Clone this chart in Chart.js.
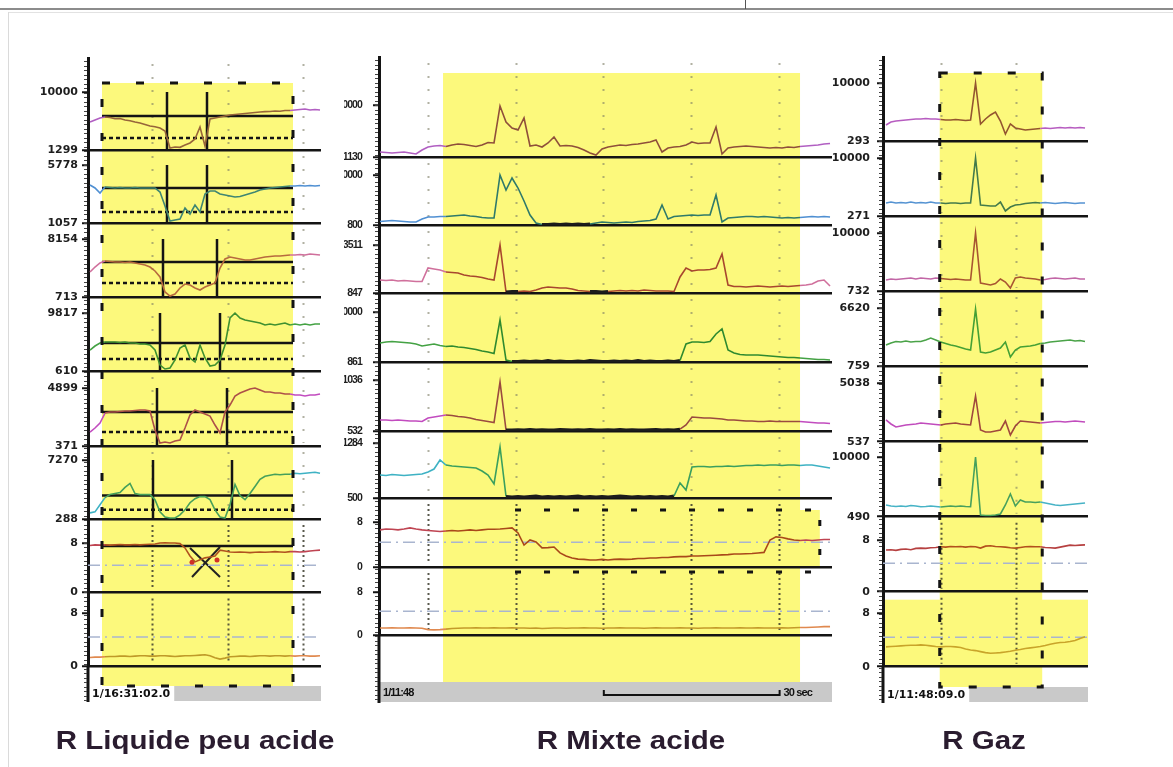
<!DOCTYPE html>
<html>
<head>
<meta charset="utf-8">
<title>Enregistrements pH : R Liquide peu acide, R Mixte acide, R Gaz</title>
<script src="https://cdn.jsdelivr.net/npm/chart.js@4.4.1/dist/chart.umd.min.js"></script>
<style>
  html, body { margin: 0; padding: 0; background: #fff; }
  #page { position: relative; width: 1173px; height: 767px; overflow: hidden; background: #fff; }
  .rule { position: absolute; background: #8c8c8c; }
  canvas { position: absolute; top: 0; }
  .titre { position: absolute; top: 726px; height: 32px; line-height: 32px; text-align: center; white-space: nowrap;
           font: bold 25px 'Liberation Sans', Arial, sans-serif; color: #2a1c2f; transform: scaleX(1.18); }
</style>
</head>
<body>
<div id="page">
  <div class="rule" style="left:0;top:8px;width:1173px;height:2px"></div>
  <div class="rule" style="left:745px;top:0;width:1px;height:9px;background:#555"></div>
  <div class="rule" style="left:8px;top:12px;width:1165px;height:1px;background:#e2e2e2"></div>
  <div class="rule" style="left:8px;top:12px;width:1px;height:755px;background:#dadada"></div>
  <canvas id="liq" width="344" height="767" style="left:0"></canvas>
  <canvas id="mix" width="492" height="767" style="left:344px"></canvas>
  <canvas id="gaz" width="345" height="767" style="left:828px"></canvas>
  <div class="titre" style="left:45px;width:300px">R Liquide peu acide</div>
  <div class="titre" style="left:531px;width:200px">R Mixte acide</div>
  <div class="titre" style="left:934px;width:100px">R Gaz</div>
</div>
<script>
// one sample is about one second, x = sample index
const PH_REF = 4.4;

// ---------- R Liquide peu acide ----------
const liqStart = '1/16:31:02.0';
const liqMin = [1299, 1057, 713, 610, 371, 288, 0, 0];
const liqTop = [10000, 5778, 8154, 9817, 4899, 7270, 8, 8];
const liqCh1 = [5500, 5800, 6100, 6250, 6170, 5980, 6010, 5800, 5700, 5500,
  5350, 5120, 4900, 4780, 4600, 4150, 1600, 1750, 1700, 2050,
  2350, 2950, 4750, 1900, 5950, 6100, 6250, 6400, 6550, 6620,
  6700, 6770, 6850, 6920, 7000, 7060, 7070, 7150, 7120, 7220,
  7220, 7300, 7370, 7450, 7300, 7370, 7300];
const liqCh2 = [4150, 3906, 3500, 3988, 3945, 3906, 3945, 3906, 3906, 3945,
  3906, 3906, 3906, 3906, 3580, 2440, 1220, 1300, 1380, 2280,
  1790, 2520, 1950, 3420, 3660, 3660, 3420, 3340, 3255, 3173,
  3210, 3340, 3460, 3580, 3743, 3820, 3906, 3945, 3988, 4030,
  4070, 4070, 4110, 4070, 4110, 4070, 4110];
const liqCh3 = [3920, 4560, 5075, 5330, 5270, 5200, 5200, 5140, 5200, 5075,
  4947, 4820, 4560, 4050, 3280, 1355, 840, 1100, 1868, 2380,
  2253, 1868, 1611, 1996, 2253, 2510, 4434, 5588, 5845, 5717,
  5588, 5460, 5460, 5588, 5717, 5845, 5910, 5973, 5973, 6040,
  6100, 6100, 6165, 6100, 6230, 6165, 6100];
const liqCh4 = [3943, 4578, 5054, 5212, 5212, 5212, 5133, 5212, 5054, 5054,
  4895, 4895, 4736, 3943, 1562, 927, 1086, 2356, 4260, 4736,
  2673, 2038, 4736, 2673, 1403, 1562, 2356, 4736, 9021, 9815,
  9021, 8704, 8545, 8386, 8228, 7910, 8069, 7910, 8069, 8228,
  7910, 8069, 7910, 8069, 7910, 8069, 8069];
const liqCh5 = [1463, 1775, 2165, 2945, 3023, 3023, 3060, 3101, 3101, 3140,
  3179, 3179, 3101, 1619, 605, 683, 605, 761, 839, 1775,
  2789, 3179, 3023, 2867, 2711, 2009, 1385, 3023, 3569, 4271,
  4505, 4661, 4817, 4895, 4739, 4583, 4583, 4505, 4505, 4427,
  4427, 4349, 4349, 4271, 4349, 4349, 4427];
const liqCh6 = [1010, 1131, 1974, 2816, 3178, 3298, 3418, 4020, 4502, 3298,
  3178, 3178, 3178, 2576, 1131, 529, 408, 408, 770, 1372,
  2214, 2696, 2937, 2937, 2576, 1372, 529, 408, 1974, 4382,
  3057, 2576, 3298, 4141, 4984, 5345, 5465, 5586, 5525, 5586,
  5586, 5706, 5646, 5706, 5766, 5826, 5706];
const liqCh7 = [7.6, 7.7, 7.65, 7.7, 7.65, 7.7, 7.75, 7.7, 7.7, 7.75,
  7.7, 7.75, 7.8, 7.85, 8.0, 8.05, 8.0, 8.0, 7.9, 7.2,
  5.9, 4.95, 5.3, 5.6, 5.75, 5.9, 6.85, 6.7, 6.55, 6.5,
  6.55, 6.5, 6.45, 6.5, 6.55, 6.5, 6.55, 6.6, 6.55, 6.5,
  6.6, 6.6, 6.55, 6.6, 6.7, 6.8, 6.85];
const liqCh8 = [1.35, 1.4, 1.4, 1.45, 1.5, 1.5, 1.55, 1.55, 1.5, 1.55,
  1.6, 1.6, 1.55, 1.55, 1.6, 1.6, 1.55, 1.5, 1.55, 1.6,
  1.6, 1.65, 1.7, 1.75, 1.6, 1.3, 1.1, 1.25, 1.45, 1.5,
  1.55, 1.55, 1.5, 1.55, 1.6, 1.6, 1.55, 1.6, 1.6, 1.55,
  1.6, 1.55, 1.6, 1.6, 1.55, 1.55, 1.6];
const liqShade = [2.4, 40.6];
const liqGrid = [12.4, 27.5, 42.5];
const liqSolid = [6400, 3900, 5200, 5050, 3020, 3060, 7.5];
const liqDotted = [3100, 1950, 2510, 2510, 1460, 1370];
const liqMarkA = [15.4, 15.4, 14.6, 14.0, 13.4, 12.6];
const liqMarkB = [23.4, 23.4, 25.4, 26.0, 27.4, 28.4];
const liqCrossA = [[20, 7.2], [26, 2.5]];
const liqCrossB = [[26, 7.35], [20.4, 2.5]];
const liqDots = [[20.4, 4.9], [25.4, 5.25]];

// ---------- R Mixte acide ----------
const mixStart = '1/11:48';
const mixMin = [1130, 800, 847, 861, 532, 500, 0, 0];
const mixTop = [10000, 10000, 3511, 10000, 1036, 1284, 8, 8];
const mixCh1 = [1983, 1898, 1812, 1898, 1983, 1812, 1642, 2324, 2836, 3007,
  3090, 2920, 3177, 3348, 3260, 3090, 2921, 3177, 3604, 3518,
  9831, 7101, 6077, 5736, 7783, 3007, 3177, 2836, 3518, 4542,
  3007, 3090, 3007, 2751, 2324, 1812, 1471, 2495, 2836, 3007,
  3177, 3090, 3260, 3348, 3518, 3689, 4030, 1983, 2665, 2836,
  2920, 3177, 3689, 3430, 3518, 3518, 6248, 1642, 2665, 2836,
  2920, 3007, 2920, 2836, 2751, 2665, 2751, 2665, 2836, 2751,
  2920, 3007, 3090, 3177, 3348, 3430];
const mixCh2 = [1444, 1536, 1628, 1536, 1444, 1352, 1352, 1904, 2272, 2272,
  2364, 2364, 2456, 2548, 2640, 2456, 2364, 2180, 2088, 2088,
  10000, 7240, 9448, 7608, 5216, 2640, 1168, 892, 892, 984,
  892, 984, 892, 984, 892, 984, 1168, 1352, 1260, 1168,
  1260, 1352, 1260, 1444, 1536, 1628, 1904, 4480, 1904, 2364,
  2456, 2548, 2640, 2548, 2640, 2640, 6320, 1352, 2088, 2180,
  2272, 2364, 2364, 2272, 2364, 2272, 2180, 2088, 2180, 2088,
  2180, 2272, 2364, 2272, 2364, 2272];
const mixCh3 = [1569, 1541, 1569, 1513, 1541, 1513, 1485, 1485, 2235, 2179,
  2124, 2013, 1985, 1957, 1846, 1790, 1763, 1707, 1624, 1569,
  3511, 902, 930, 930, 958, 930, 1013, 1124, 1180, 1152,
  1124, 1124, 1069, 985, 958, 930, 930, 902, 930, 958,
  985, 958, 985, 958, 1013, 985, 958, 958, 958, 930,
  1735, 2235, 2068, 2124, 2124, 2152, 2235, 3011, 1291, 1208,
  1208, 1180, 1208, 1236, 1208, 1180, 1208, 1236, 1208, 1236,
  1263, 1291, 1347, 1513, 1569, 1236];
const mixCh4 = [4334, 4517, 4608, 4517, 4425, 4334, 4151, 3786, 3969, 4151,
  3877, 3694, 3786, 3603, 3512, 3329, 3146, 2872, 2689, 2415,
  8539, 1227, 952, 952, 1044, 952, 1044, 952, 1135, 952,
  1044, 952, 952, 1044, 952, 1135, 1044, 952, 952, 1044,
  952, 1044, 952, 1135, 952, 1044, 952, 952, 1044, 952,
  1135, 4151, 4517, 4517, 4425, 4608, 5979, 6893, 3055, 2506,
  2232, 2141, 2141, 2141, 2050, 1958, 1867, 1775, 1684, 1684,
  1592, 1501, 1410, 1318, 1318, 1227];
const mixCh5 = [641, 641, 636, 641, 636, 631, 631, 626, 660, 670,
  680, 690, 685, 675, 670, 660, 646, 636, 626, 616,
  1016, 542, 542, 545, 542, 547, 542, 545, 542, 542,
  547, 545, 542, 545, 542, 547, 542, 542, 545, 542,
  547, 542, 545, 542, 542, 545, 547, 542, 545, 542,
  550, 591, 670, 665, 660, 660, 655, 650, 641, 641,
  636, 631, 631, 626, 626, 631, 626, 626, 626, 626,
  626, 621, 616, 611, 611, 606];
const mixCh6 = [828, 821, 835, 828, 821, 828, 835, 842, 871, 913,
  1042, 970, 956, 949, 942, 935, 928, 885, 828, 700,
  1227, 521, 514, 521, 514, 521, 528, 514, 521, 514,
  521, 514, 521, 528, 514, 521, 514, 521, 514, 521,
  528, 521, 514, 521, 514, 521, 514, 521, 514, 528,
  714, 614, 942, 949, 949, 942, 949, 949, 956, 949,
  956, 963, 963, 970, 963, 970, 970, 963, 970, 970,
  963, 970, 970, 956, 942, 928];
const mixCh7 = [6.6, 6.75, 6.7, 6.6, 6.75, 6.95, 6.75, 6.6, 6.5, 6.4,
  6.3, 6.4, 6.5, 6.4, 6.5, 6.6, 6.5, 6.6, 6.7, 6.7,
  6.75, 6.85, 6.95, 6.05, 3.9, 4.8, 4.45, 3.4, 3.45, 3.55,
  2.5, 1.95, 1.6, 1.4, 1.35, 1.25, 1.25, 1.35, 1.25, 1.35,
  1.4, 1.35, 1.4, 1.5, 1.5, 1.6, 1.6, 1.7, 1.7, 1.8,
  1.85, 1.85, 1.95, 1.95, 2.0, 2.05, 2.1, 2.15, 2.2, 2.3,
  2.3, 2.35, 2.4, 2.5, 2.6, 4.8, 5.35, 5.25, 5.0, 4.8,
  4.7, 4.8, 4.7, 4.8, 4.9, 4.9];
const mixCh8 = [1.3, 1.3, 1.35, 1.3, 1.3, 1.35, 1.3, 1.25, 1.0, 0.95,
  1.0, 1.1, 1.2, 1.25, 1.3, 1.3, 1.35, 1.3, 1.3, 1.35,
  1.3, 1.3, 1.35, 1.3, 1.3, 1.25, 1.3, 1.2, 1.25, 1.3,
  1.3, 1.25, 1.3, 1.3, 1.35, 1.3, 1.3, 1.25, 1.3, 1.3,
  1.35, 1.3, 1.3, 1.3, 1.25, 1.3, 1.35, 1.3, 1.3, 1.3,
  1.35, 1.3, 1.3, 1.25, 1.3, 1.3, 1.35, 1.3, 1.3, 1.3,
  1.35, 1.3, 1.3, 1.35, 1.3, 1.3, 1.3, 1.35, 1.3, 1.35,
  1.4, 1.4, 1.45, 1.5, 1.55, 1.55];
const mixShade = [10.5, 70];
const mixGrid = [8, 22.6, 37.2, 51.8, 66.5];
const mixPhWindow = [22.5, 73.3];   // second window, pH channel only
const mixScaleBar = [37.3, 29.3];   // start, length (= 30 sec)

// ---------- R Gaz ----------
const gazStart = '1/11:48:09.0';
const gazMin = [293, 271, 732, 759, 537, 490, 0, 0];
const gazTop = [10000, 10000, 10000, 6620, 5038, 10000, 8, 8];
const gazCh1 = [2971, 3474, 3641, 3725, 3808, 3892, 3976, 3976, 4060, 3976,
  3976, 3892, 3808, 3808, 3892, 3808, 3725, 3808, 10000, 3139,
  3976, 4645, 5147, 3641, 1465, 3139, 2469, 2302, 2134, 2218,
  2302, 2385, 2469, 2385, 2469, 2552, 2469, 2552, 2469, 2552, 2469];
const gazCh2 = [2451, 2619, 2451, 2535, 2451, 2619, 2451, 2535, 2451, 2619,
  2451, 2451, 2367, 2451, 2451, 2367, 2451, 2451, 10000, 2116,
  2032, 1948, 1948, 2619, 1110, 1780, 2116, 2200, 2367, 2451,
  2535, 2451, 2535, 2451, 2367, 2451, 2535, 2451, 2367, 2451, 2451];
const gazCh3 = [2490, 2650, 2570, 2650, 2730, 2810, 2650, 2810, 2730, 2650,
  2810, 2730, 2650, 2570, 2650, 2570, 2490, 2490, 10000, 2010,
  1850, 1690, 1930, 2650, 2170, 1211, 2810, 2970, 2810, 2730,
  2650, 2490, 2570, 2730, 2810, 2730, 2650, 2730, 2810, 2650, 2650];
const gazCh4 = [2880, 3082, 3233, 3183, 3284, 3183, 3233, 3233, 3385, 3587,
  3385, 3183, 3032, 2880, 2780, 2628, 2476, 2375, 6516, 2173,
  2072, 2173, 2375, 2577, 3183, 1668, 2375, 2678, 2729, 2780,
  2880, 3032, 3082, 3183, 3233, 3284, 3334, 3385, 3284, 3334, 3233];
const gazCh5 = [2201, 1895, 1664, 1741, 1818, 1856, 1895, 1971, 1933, 1895,
  1856, 1818, 1895, 1933, 1971, 1895, 1856, 1818, 4042, 1434,
  1281, 1281, 1358, 1434, 2125, 1051, 1741, 2125, 2086, 2048,
  2010, 1971, 2010, 2048, 2086, 2086, 2048, 2086, 2125, 2086, 2048];
const gazCh6 = [2354, 2195, 2115, 2195, 2115, 2274, 2195, 2083, 2115, 2195,
  2115, 2035, 2115, 2195, 2115, 2195, 2115, 2083, 10000, 761,
  681, 681, 761, 920, 2354, 4106, 2195, 3150, 2832, 2832,
  2752, 2832, 2672, 2513, 2354, 2274, 2354, 2433, 2513, 2593, 2672];
const gazCh7 = [6.45, 6.5, 6.4, 6.55, 6.6, 6.5, 6.7, 6.75, 6.7, 6.8,
  6.85, 6.95, 6.9, 7.0, 6.95, 7.0, 6.9, 7.0, 6.95, 6.75,
  7.05, 7.1, 7.0, 6.95, 6.9, 6.8, 6.75, 6.85, 6.95, 7.0,
  6.95, 6.95, 6.85, 6.8, 6.75, 6.9, 7.05, 7.2, 7.15, 7.2, 7.25];
const gazCh8 = [2.95, 3.0, 3.05, 3.1, 3.15, 3.2, 3.2, 3.25, 3.2, 3.1,
  3.0, 2.95, 3.0, 3.0, 2.95, 2.85, 2.65, 2.5, 2.4, 2.25,
  2.1, 2.0, 2.05, 2.1, 2.2, 2.3, 2.45, 2.55, 2.7, 2.8,
  2.9, 3.0, 3.15, 3.35, 3.5, 3.6, 3.65, 3.75, 3.9, 4.2, 4.45];
const gazShade = [10.8, 31.4];
const gazGrid = [11, 26.2];

// ---------- drawing ----------
const YELLOW = '#fcf97c';
const INK = '#141414';
const wideFont = { family: "'DejaVu Sans', sans-serif", size: 11, weight: 'bold' };
const narrowFont = { family: "'Liberation Sans Narrow', 'Liberation Sans', sans-serif", size: 10.5, weight: 'bold' };

function lineDs(points, axis, color, width, dash) {
  return {
    data: points.map(p => ({ x: p[0], y: p[1] })),
    yAxisID: axis, borderColor: color, borderWidth: width, borderDash: dash || [],
    pointRadius: 0, order: 1
  };
}

function decor(p) {
  return {
    id: 'decor',
    beforeDraw(chart) {
      const { ctx, chartArea: a, scales } = chart;
      // the middle recording is squeezed horizontally: tighten its lettering
      if (p.letterSpacing) ctx.letterSpacing = p.letterSpacing;
      const px = t => scales.x.getPixelForValue(t);
      const y0 = a.top + p.shadeTop;
      const barTop = a.bottom + p.barGap;
      ctx.save();
      ctx.fillStyle = YELLOW;
      ctx.fillRect(px(p.shade[0]), y0, px(p.shade[1]) - px(p.shade[0]), barTop - y0);
      (p.boxes || []).forEach(b => {
        const s = scales[b.axis];
        const x0 = b.from == null ? a.left : px(b.from);
        const x1 = b.to == null ? a.right : px(b.to);
        ctx.fillRect(x0, s.top + b.inset, x1 - x0, s.bottom - s.top - b.inset);
      });
      // dotted time grid, strip by strip
      p.mins.forEach((mn, i) => {
        const s = scales['y' + i];
        const ph = i >= 6;
        ctx.strokeStyle = ph ? 'rgba(60,60,45,0.85)' : 'rgba(125,125,100,0.6)';
        ctx.lineWidth = 2;
        ctx.setLineDash(ph ? [2, 3] : [2, 11]);
        p.grid.forEach(t => {
          const gx = Math.round(px(t)) + 0.5;
          ctx.beginPath();
          ctx.moveTo(gx, s.top + 6);
          ctx.lineTo(gx, s.bottom - 3);
          ctx.stroke();
        });
      });
      ctx.setLineDash([]);
      // time bar
      ctx.font = p.barFont;
      const tw = ctx.measureText(p.timeLabel).width;
      const gx0 = p.barUnderLabel ? a.left : a.left + tw + 8;
      ctx.fillStyle = '#c9c9c9';
      ctx.fillRect(gx0, barTop, a.right - gx0, p.barH);
      ctx.fillStyle = '#111';
      ctx.textAlign = 'left';
      ctx.textBaseline = 'middle';
      ctx.fillText(p.timeLabel, a.left + 4, barTop + p.barH / 2 + 1);
      ctx.restore();
    },
    afterDatasetsDraw(chart) {
      const { ctx, chartArea: a, scales } = chart;
      const px = t => scales.x.getPixelForValue(t);
      const y0 = a.top + p.shadeTop;
      const barTop = a.bottom + p.barGap;
      ctx.save();
      ctx.strokeStyle = INK;
      ctx.lineWidth = 3;
      if (p.frame) {
        ctx.setLineDash([8, 26]);
        ctx.strokeRect(px(p.shade[0]), y0, px(p.shade[1]) - px(p.shade[0]), barTop - y0);
      }
      if (p.boxFrame) {
        const b = p.boxFrame, s = scales[b.axis];
        const x0 = px(b.from), x1 = px(b.to);
        const top = s.top + b.inset, bot = s.bottom + b.below;
        ctx.setLineDash([6, 23]);
        ctx.beginPath();
        ctx.moveTo(x0, top); ctx.lineTo(x1, top);
        ctx.moveTo(x0, bot); ctx.lineTo(x1, bot);
        ctx.moveTo(x1, top + 10); ctx.lineTo(x1, s.bottom);
        ctx.stroke();
      }
      ctx.restore();
    },
    afterDraw(chart) {
      const { ctx, chartArea: a, scales } = chart;
      const px = t => scales.x.getPixelForValue(t);
      const barTop = a.bottom + p.barGap;
      const barBot = barTop + p.barH;
      ctx.save();
      ctx.strokeStyle = INK;
      ctx.lineWidth = 3;
      ctx.beginPath();
      ctx.moveTo(a.left, a.bottom);
      ctx.lineTo(a.left, barBot + 1);
      ctx.stroke();
      // small comb marks along the axis
      ctx.lineWidth = 1;
      ctx.strokeStyle = '#444';
      ctx.beginPath();
      for (let y = a.top + 3; y < barBot; y += 4.5) {
        ctx.moveTo(a.left - 4, Math.round(y) + 0.5);
        ctx.lineTo(a.left - 1, Math.round(y) + 0.5);
      }
      ctx.stroke();
      if (p.scaleBar) {
        const x0 = px(p.scaleBar[0]), x1 = px(p.scaleBar[0] + p.scaleBar[1]);
        const yb = barTop + p.barH / 2 + 3;
        ctx.lineWidth = 2;
        ctx.strokeStyle = '#111';
        ctx.beginPath();
        ctx.moveTo(x0, yb - 5); ctx.lineTo(x0, yb); ctx.lineTo(x1, yb); ctx.lineTo(x1, yb - 5);
        ctx.stroke();
        ctx.font = p.barFont;
        ctx.fillStyle = '#111';
        ctx.textBaseline = 'middle';
        ctx.fillText(p.scaleLabel, x1 + 4, barTop + p.barH / 2 + 1);
      }
      ctx.restore();
    }
  };
}

function buildPanel(id, p) {
  const scales = { x: { type: 'linear', display: false, min: p.xRange[0], max: p.xRange[1] } };
  const datasets = [];
  p.mins.forEach((mn, i) => {
    const top = p.tops[i];
    scales['y' + i] = {
      type: 'linear', position: 'left', stack: id, stackWeight: p.heights[i], weight: 20 - i,
      min: mn, max: mn + (top - mn) * p.heights[i] / p.rises[i],
      afterBuildTicks: s => { s.ticks = [{ value: mn }, { value: top }]; },
      afterFit: s => { s.width = p.axisWidth; s.paddingTop = 0; s.paddingBottom = 0; },
      ticks: { autoSkip: false, padding: p.labelPad, color: '#1e1e1e', font: p.tickFont, callback: v => String(v) },
      grid: {
        color: c => (c.tick && c.tick.value === mn) ? INK : 'rgba(0,0,0,0)',
        lineWidth: 2.5, tickLength: 6, tickColor: INK, tickWidth: 2
      },
      border: { color: INK, width: 3 }
    };
    const inC = p.inColors[i], outC = p.outColors[i];
    // a trace lying on the baseline shows as a dark stroke on the recorder
    const floor = mn + (top - mn) * (p.floorShare || 0);
    datasets.push({
      data: p.series[i].map((v, k) => ({ x: k, y: v })),
      yAxisID: 'y' + i, borderColor: outC, borderWidth: 1.6, pointRadius: 0, order: 0,
      segment: {
        borderColor: c => {
          if (c.p0.parsed.y < floor && c.p1.parsed.y < floor) return '#1c1c1c';
          return (c.p0.parsed.x >= p.shade[0] && c.p1.parsed.x <= p.shade[1]) ? inC : outC;
        },
        borderWidth: c => (c.p0.parsed.y < floor && c.p1.parsed.y < floor) ? 3 : 1.6
      }
    });
  });
  [6, 7].forEach(i => datasets.push(
    lineDs([[p.xRange[0], PH_REF], [p.xRange[1], PH_REF]], 'y' + i, '#a9b5cf', 1.5, [12, 5, 2, 5])));
  (p.extra || []).forEach(d => datasets.push(d));

  return new Chart(document.getElementById(id), {
    type: 'line',
    data: { datasets },
    options: {
      responsive: false,
      animation: false,
      events: [],
      layout: { padding: p.pad },
      scales,
      plugins: { legend: { display: false }, tooltip: { enabled: false } }
    },
    plugins: [decor(p)]
  });
}

// threshold lines and event markers of the first recording
const liqExtra = [];
liqSolid.forEach((v, i) => liqExtra.push(lineDs([[liqShade[0], v], [liqShade[1], v]], 'y' + i, INK, 2.5)));
liqDotted.forEach((v, i) => liqExtra.push(lineDs([[liqShade[0], v], [liqShade[1], v]], 'y' + i, INK, 2.5, [4, 3])));
liqMarkA.forEach((t, i) => liqExtra.push(lineDs([[t, liqMin[i]], [t, liqTop[i]]], 'y' + i, INK, 2.5)));
liqMarkB.forEach((t, i) => liqExtra.push(lineDs([[t, liqMin[i]], [t, liqTop[i]]], 'y' + i, INK, 2.5)));
liqExtra.push(lineDs(liqCrossA, 'y6', '#222', 2));
liqExtra.push(lineDs(liqCrossB, 'y6', '#222', 2));
liqExtra.push({
  data: liqDots.map(d => ({ x: d[0], y: d[1] })), yAxisID: 'y6', showLine: false,
  pointRadius: 2.5, pointBackgroundColor: '#d03028', pointBorderWidth: 0, order: 0
});

buildPanel('liq', {
  series: [liqCh1, liqCh2, liqCh3, liqCh4, liqCh5, liqCh6, liqCh7, liqCh8],
  mins: liqMin, tops: liqTop, xRange: [-0.4, 46.2],
  shade: liqShade, grid: liqGrid, timeLabel: liqStart, extra: liqExtra,
  heights: [92, 73, 74, 74, 75, 73, 73.5, 74], rises: [58, 58, 58, 58, 58, 59, 49.5, 53.5],
  pad: { left: 0, right: 23, top: 58, bottom: 100.5 }, axisWidth: 88, labelPad: 4, tickFont: wideFont,
  shadeTop: 25, barGap: 19.5, barH: 15, barUnderLabel: false, barFont: "bold 11px 'DejaVu Sans', sans-serif",
  frame: true,
  outColors: ['#b15fc2', '#4f8fd2', '#d0709c', '#44a244', '#c24cbf', '#3eb2c4', '#bf4452', '#e0894f'],
  inColors: ['#97653a', '#3f8672', '#b76a3e', '#3f9030', '#ad5048', '#46a05a', '#b0521f', '#bf9a28']
});

buildPanel('mix', {
  series: [mixCh1, mixCh2, mixCh3, mixCh4, mixCh5, mixCh6, mixCh7, mixCh8],
  mins: mixMin, tops: mixTop, xRange: [-0.17, 75.33],
  shade: mixShade, grid: mixGrid, timeLabel: mixStart, floorShare: 0.04,
  heights: [100, 68, 68, 69, 69, 67, 69, 68], rises: [52, 50, 48, 50, 51, 55, 45, 43],
  pad: { left: 0, right: 4, top: 57, bottom: 132 }, axisWidth: 35, labelPad: 11, tickFont: narrowFont,
  letterSpacing: '-0.9px',
  shadeTop: 16, barGap: 47, barH: 20, barUnderLabel: true,
  barFont: "bold 11px 'Liberation Sans Narrow', 'Liberation Sans', sans-serif",
  boxes: [{ axis: 'y6', from: mixPhWindow[0], to: mixPhWindow[1], inset: 12 }],
  boxFrame: { axis: 'y6', from: mixPhWindow[0], to: mixPhWindow[1], inset: 12, below: 5 },
  scaleBar: mixScaleBar, scaleLabel: '30 sec',
  outColors: ['#b15fc2', '#4f8fd2', '#d0709c', '#44a244', '#c24cbf', '#3eb2c4', '#bf4452', '#e0894f'],
  inColors: ['#8f4f3a', '#2f7a6a', '#a8472e', '#2f8a2f', '#9a4a3f', '#3a9f5e', '#a9481a', '#c49a2a']
});

buildPanel('gaz', {
  series: [gazCh1, gazCh2, gazCh3, gazCh4, gazCh5, gazCh6, gazCh7, gazCh8],
  mins: gazMin, tops: gazTop, xRange: [-0.6, 40.6],
  shade: gazShade, grid: gazGrid, timeLabel: gazStart,
  heights: [84, 75, 75, 75, 75.7, 75, 75, 75], rises: [58, 58, 58, 58, 58.7, 59.7, 51.7, 53.7],
  pad: { left: 0, right: 85, top: 57, bottom: 100.3 }, axisWidth: 55, labelPad: 7, tickFont: wideFont,
  shadeTop: 16, barGap: 20.3, barH: 15, barUnderLabel: false, barFont: "bold 11px 'DejaVu Sans', sans-serif",
  frame: true,
  boxes: [{ axis: 'y7', inset: 8 }],
  outColors: ['#b75dc0', '#5593d2', '#c266a6', '#4aa348', '#c14cbd', '#47b3c6', '#b64040', '#c9a42a'],
  inColors: ['#93552f', '#437a4a', '#a85531', '#45a035', '#a0483c', '#47a05c', '#b2501c', '#c9a42a']
});
</script>
</body>
</html>
